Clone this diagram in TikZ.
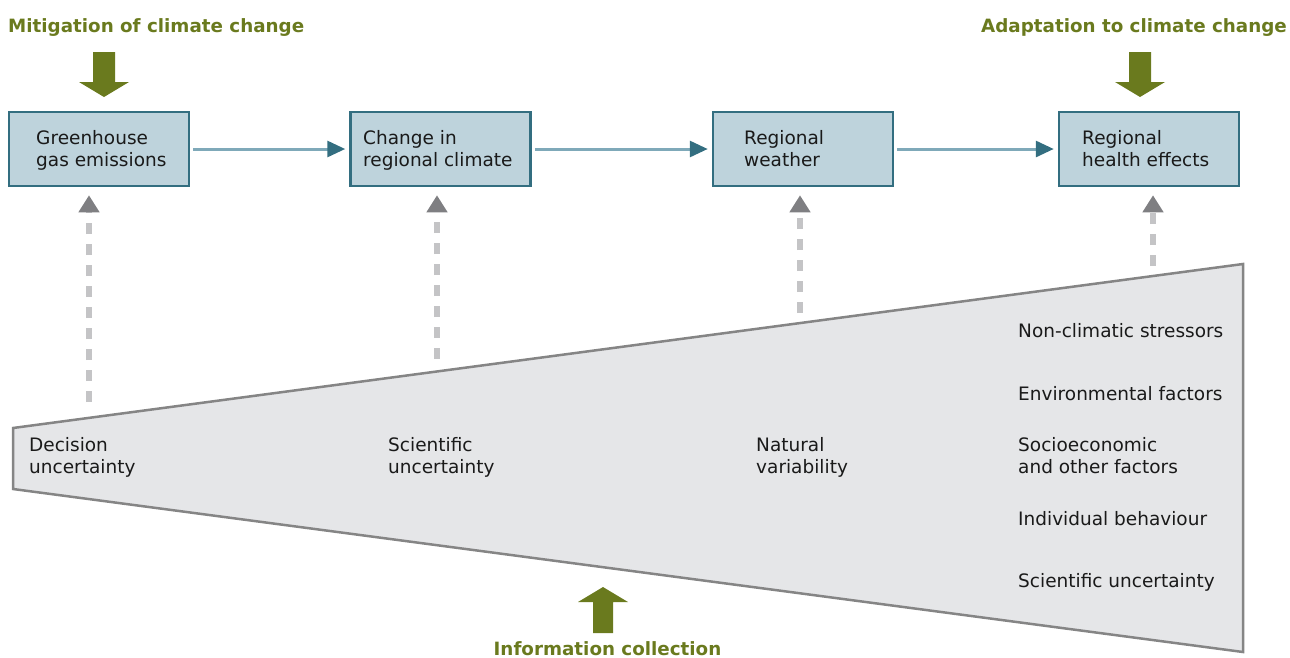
\documentclass[tikz,border=0pt]{standalone}
\usepackage{fontspec}
\setmainfont{DejaVu Sans}
\usetikzlibrary{arrows.meta}
\definecolor{olivegreen}{HTML}{6A7A1E}
\definecolor{tealdark}{HTML}{336E80}
\definecolor{boxfill}{HTML}{BED3DC}
\definecolor{tealline}{HTML}{7FA9B9}
\definecolor{wedgefill}{HTML}{E5E6E8}
\definecolor{wedgeline}{HTML}{858585}
\definecolor{dashgray}{HTML}{C4C4C6}
\definecolor{tipgray}{HTML}{7F7F82}
\definecolor{txt}{HTML}{1A1A1A}
\tikzset{
  stagebox/.style={draw=tealdark, line width=2.5pt, fill=boxfill, minimum width=180pt, minimum height=74pt, inner sep=0pt},
  boxtext/.style={anchor=base west, align=left, inner sep=0pt, text=txt, font=\fontsize{18.5}{22}\selectfont},
  flowline/.style={draw=tealline, line width=3pt, -{Triangle[length=18pt,width=16pt,color=tealdark]}, shorten <=3pt, shorten >=4pt},
  dashup/.style={draw=dashgray, line width=6pt, dash pattern=on 11pt off 10pt, -{Triangle[length=17pt,width=20pt,color=tipgray]}, shorten >=8pt},
  wlabel/.style={anchor=base west, align=left, inner sep=0pt, text=txt, font=\fontsize{18.5}{22}\selectfont},
  title/.style={inner sep=0pt, text=olivegreen, font=\fontsize{18.3}{22}\selectfont\bfseries},
  blockarrow/.style={fill=olivegreen, draw=none}
}
\begin{document}
\begin{tikzpicture}[x=1pt,y=-1pt]
\useasboundingbox (0,0) rectangle (1290,657);
% wedge
\filldraw[fill=wedgefill, draw=wedgeline, line width=2.5pt, line join=miter]
  (13,428) -- (1243,264) -- (1243,652) -- (13,489) -- cycle;
% boxes
\node[stagebox] (b1) at (99,149) {};
\node[stagebox] (b2) at (440.5,149) {};
\node[stagebox] (b3) at (803,149) {};
\node[stagebox] (b4) at (1149,149) {};
\node[boxtext] (b1t) at (36,166) {Greenhouse\\gas emissions};
\node[boxtext] (b2t) at (363,166) {Change in\\regional climate};
\node[boxtext] (b3t) at (744,166) {Regional\\weather};
\node[boxtext] (b4t) at (1082,166) {Regional\\health effects};
\draw[flowline] (b1.east) -- (b2.west);
\draw[flowline] (b2.east) -- (b3.west);
\draw[flowline] (b3.east) -- (b4.west);
% dashed arrows
\coordinate (d1) at (89,402);
\coordinate (d2) at (437,359);
\coordinate (d3) at (800,313);
\coordinate (d4) at (1153,266);
\draw[dashup] (d1) -- (d1 |- b1.south);
\draw[dashup] (d2) -- (d2 |- b2.south);
\draw[dashup] (d3) -- (d3 |- b3.south);
\draw[dashup] (d4) -- (d4 |- b4.south);
% titles
\node[title, anchor=base west] (t1) at (8,32) {Mitigation of climate change};
\node[title, anchor=base east] (t2) at (1287,32) {Adaptation to climate change};
\node[title, anchor=base] (t3) at (607.5,655) {Information collection};
% block arrows
\fill[blockarrow] (93,52) -- (115,52) -- (115,82) -- (129,82) -- (104,97) -- (79,82) -- (93,82) -- cycle;
\fill[blockarrow] (1129,52) -- (1151,52) -- (1151,82) -- (1165,82) -- (1140,97) -- (1115,82) -- (1129,82) -- cycle;
\fill[blockarrow] (593,633) -- (613,633) -- (613,602) -- (628,602) -- (603,587) -- (578,602) -- (593,602) -- cycle;
% wedge labels
\node[wlabel] (l1) at (29,473) {Decision\\uncertainty};
\node[wlabel] (l2) at (388,473) {Scientific\\uncertainty};
\node[wlabel] (l3) at (756,473) {Natural\\variability};
\node[wlabel] (r1) at (1018,337) {Non-climatic stressors};
\node[wlabel] (r2) at (1018,400) {Environmental factors};
\node[wlabel] (r3) at (1018,473) {Socioeconomic\\and other factors};
\node[wlabel] (r4) at (1018,525) {Individual behaviour};
\node[wlabel] (r5) at (1018,587) {Scientific uncertainty};
\end{tikzpicture}
\end{document}
